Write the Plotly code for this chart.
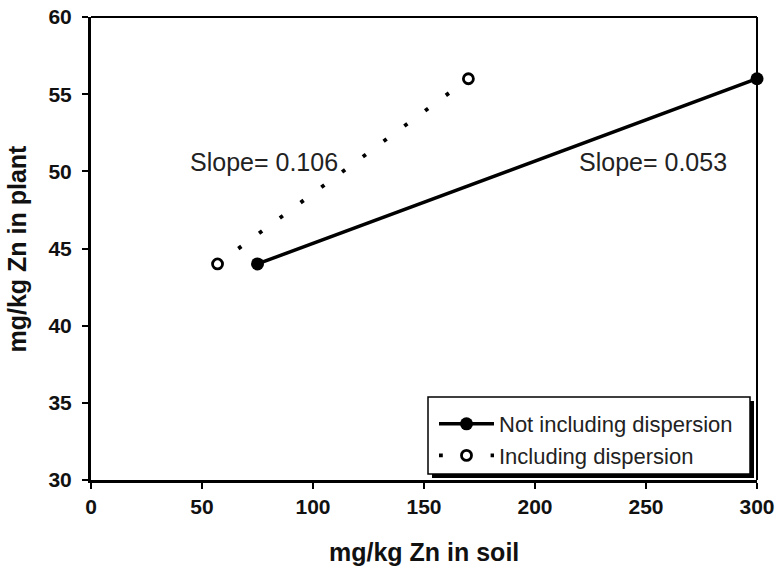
import plotly.graph_objects as go

# Data
not_incl_x = [75, 300]
not_incl_y = [44, 56]
incl_x = [57, 170]
incl_y = [44, 56]
series_names = ["Not including dispersion", "Including dispersion"]
slope_labels = ["Slope= 0.106", "Slope= 0.053"]
slope_pos_x = [78, 253]
slope_pos_y = [50.6, 50.6]
x_ticks = [0, 50, 100, 150, 200, 250, 300]
y_ticks = [30, 35, 40, 45, 50, 55, 60]

FONT = "Liberation Sans, Arial, sans-serif"

fig = go.Figure()
fig.add_trace(go.Scatter(
    x=not_incl_x, y=not_incl_y, mode="lines+markers", name=series_names[0],
    line=dict(color="black", width=3.5),
    marker=dict(color="black", size=13, symbol="circle"),
    cliponaxis=False,
))
fig.add_trace(go.Scatter(
    x=incl_x, y=incl_y, mode="lines+markers", name=series_names[1],
    line=dict(color="black", width=3.8, dash="3.8px,22px"),
    marker=dict(color="white", size=10, symbol="circle",
                line=dict(color="black", width=2.8)),
    cliponaxis=False,
))

for t, xx, yy in zip(slope_labels, slope_pos_x, slope_pos_y):
    fig.add_annotation(x=xx, y=yy, text=t, showarrow=False,
                       font=dict(family=FONT, size=25, color="#222"),
                       xanchor="center", yanchor="middle")

# plot box geometry (page px) for paper conversion
L, R, T, B = 91, 757, 17, 480
W, H = R - L, B - T
def px(xp):
    return (xp - L) / W
def py(yp):
    return (B - yp) / H

# axis titles
fig.add_annotation(xref="paper", yref="paper", x=0.5, y=0, yshift=-(552 - B),
                   text="<b>mg/kg Zn in soil</b>", showarrow=False,
                   font=dict(family=FONT, size=25, color="#111"),
                   xanchor="center", yanchor="middle")
fig.add_annotation(xref="paper", yref="paper", x=0, y=0.5, xshift=-(L - 16),
                   text="<b>mg/kg Zn in plant</b>", showarrow=False, textangle=-90,
                   font=dict(family=FONT, size=25, color="#111"),
                   xanchor="center", yanchor="middle")

# top/right frame lines
fig.add_shape(type="line", xref="paper", yref="paper", x0=0, x1=1, y0=1, y1=1,
              line=dict(color="black", width=2))
fig.add_shape(type="line", xref="paper", yref="paper", x0=1, x1=1, y0=0, y1=1,
              line=dict(color="black", width=2))

# legend box with shadow
fig.add_shape(type="rect", xref="paper", yref="paper",
              x0=px(432), x1=px(754), y0=py(478), y1=py(401),
              fillcolor="black", line=dict(width=0), layer="above")
fig.add_shape(type="rect", xref="paper", yref="paper",
              x0=px(428), x1=px(750), y0=py(474), y1=py(397),
              fillcolor="white", line=dict(color="black", width=1.5), layer="above")

fig.update_layout(
    width=775, height=568,
    margin=dict(l=L, r=775 - R, t=T, b=568 - B),
    plot_bgcolor="white", paper_bgcolor="white",
    showlegend=True,
    legend=dict(x=px(434), y=py(403), xanchor="left", yanchor="top",
                bgcolor="rgba(0,0,0,0)", borderwidth=0,
                font=dict(family=FONT, size=22, color="#222"),
                tracegroupgap=0, itemwidth=55),
    font=dict(family=FONT, color="black"),
)
fig.update_xaxes(
    range=[0, 300], tickvals=x_ticks, ticktext=["<b>%d</b>" % v for v in x_ticks],
    showgrid=False, zeroline=False,
    showline=True, linecolor="black", linewidth=3,
    ticks="outside", ticklen=6, tickwidth=2, tickcolor="black",
    tickfont=dict(family=FONT, size=21, color="#111"),
    ticklabeloverflow="allow",
    automargin=False,
)
fig.update_yaxes(
    range=[30, 60], tickvals=y_ticks, ticktext=["<b>%d</b>" % v for v in y_ticks],
    showgrid=False, zeroline=False,
    showline=True, linecolor="black", linewidth=3,
    ticks="outside", ticklen=6, tickwidth=2, tickcolor="black",
    tickfont=dict(family=FONT, size=21, color="#111"),
    ticklabeloverflow="allow", ticklabelstandoff=6,
    automargin=False,
)

fig.write_html("out.html", config={"displayModeBar": False},
               post_script="document.body.style.margin='0';")
